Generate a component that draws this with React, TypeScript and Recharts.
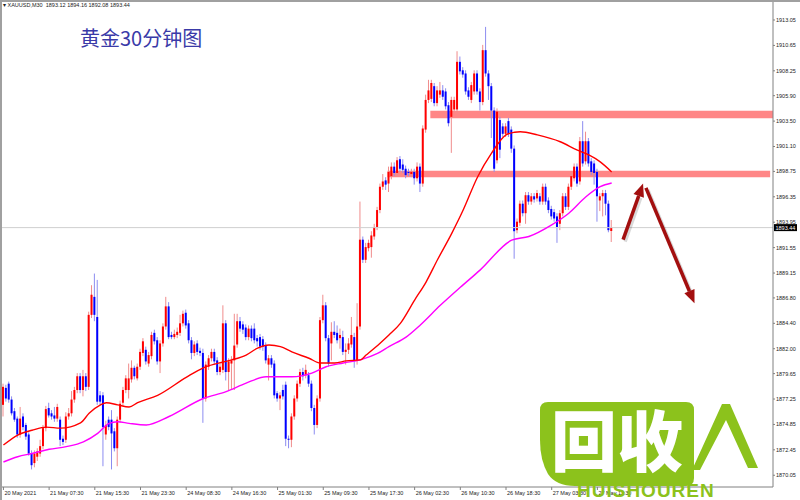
import React from 'react'
import { ComposedChart, Bar, Line, XAxis, YAxis, ReferenceArea, ReferenceLine } from 'recharts'

// XAUUSD M30 candles, [open, high, low, close], oldest first
const candles: [number, number, number, number][] = [
  [1876.7, 1878.7, 1875.6, 1878.4], [1878.3, 1878.6, 1877.0, 1877.3], [1878.7, 1878.9, 1876.9, 1877.2],
  [1877.2, 1877.5, 1875.7, 1875.9], [1876.1, 1876.4, 1875.1, 1875.3], [1875.4, 1875.6, 1873.6, 1873.9],
  [1873.9, 1876.5, 1873.6, 1875.4], [1875.6, 1875.9, 1874.3, 1874.6], [1874.8, 1875.0, 1873.4, 1873.7],
  [1873.9, 1874.1, 1871.9, 1872.1], [1872.1, 1872.4, 1870.6, 1871.0], [1871.2, 1872.4, 1870.8, 1872.1],
  [1871.8, 1872.6, 1871.4, 1872.3], [1872.1, 1873.4, 1871.8, 1872.8], [1872.8, 1874.8, 1872.5, 1874.5],
  [1874.5, 1876.6, 1874.2, 1876.3], [1876.4, 1876.9, 1875.5, 1875.7], [1875.9, 1876.2, 1875.3, 1875.6],
  [1875.7, 1876.5, 1875.1, 1875.4], [1875.4, 1876.8, 1875.1, 1876.5], [1875.3, 1875.6, 1872.8, 1873.4],
  [1873.5, 1873.8, 1872.9, 1873.2], [1873.4, 1876.0, 1873.1, 1875.6], [1875.6, 1876.4, 1875.3, 1875.9],
  [1875.9, 1878.0, 1875.6, 1877.2], [1877.2, 1878.4, 1876.9, 1878.1], [1878.1, 1879.7, 1877.8, 1879.4],
  [1879.4, 1879.7, 1877.8, 1878.1], [1878.1, 1880.0, 1877.5, 1879.4], [1879.4, 1879.7, 1878.0, 1878.4],
  [1878.4, 1885.5, 1878.1, 1885.2], [1885.2, 1888.0, 1884.9, 1887.1], [1886.9, 1889.1, 1884.6, 1885.2],
  [1885.0, 1888.5, 1876.7, 1877.0], [1877.6, 1878.0, 1876.7, 1877.0], [1877.6, 1877.9, 1870.9, 1874.6],
  [1873.9, 1875.2, 1873.4, 1874.8], [1875.3, 1875.6, 1874.3, 1874.6], [1875.3, 1876.2, 1870.6, 1874.0],
  [1874.2, 1874.5, 1872.3, 1872.6], [1872.6, 1875.6, 1870.9, 1875.3], [1875.3, 1877.1, 1875.0, 1876.8],
  [1876.9, 1878.4, 1876.6, 1878.1], [1878.1, 1879.5, 1877.8, 1879.2],
  // 24 May
  [1878.1, 1880.6, 1877.3, 1879.2], [1879.1, 1880.9, 1878.8, 1880.2], [1880.2, 1880.4, 1879.1, 1879.4],
  [1879.2, 1880.6, 1879.0, 1880.3], [1880.3, 1882.0, 1880.0, 1881.7], [1881.6, 1883.0, 1881.3, 1882.7],
  [1881.9, 1882.2, 1880.5, 1880.8], [1880.6, 1881.7, 1880.3, 1881.4], [1881.3, 1883.6, 1881.0, 1883.3],
  [1883.5, 1883.8, 1882.4, 1882.7], [1882.8, 1883.1, 1880.5, 1880.8], [1880.8, 1882.8, 1879.7, 1882.5],
  [1882.5, 1884.4, 1882.2, 1884.1], [1884.1, 1886.9, 1883.8, 1886.0], [1886.0, 1886.4, 1882.9, 1883.1],
  [1883.3, 1883.6, 1882.9, 1883.1], [1883.1, 1883.8, 1882.9, 1883.4], [1883.3, 1884.0, 1883.0, 1883.6],
  [1883.5, 1885.2, 1883.2, 1884.4], [1884.4, 1885.6, 1884.1, 1885.3], [1885.4, 1885.7, 1883.9, 1884.2],
  [1884.4, 1884.7, 1882.5, 1882.8], [1882.8, 1883.1, 1881.0, 1881.6], [1881.6, 1882.7, 1881.3, 1882.4],
  [1882.5, 1882.8, 1881.4, 1881.7], [1881.8, 1882.1, 1881.3, 1881.6], [1881.6, 1882.0, 1875.0, 1877.3],
  [1877.3, 1880.8, 1877.0, 1880.5], [1880.3, 1881.4, 1880.0, 1881.1], [1881.1, 1882.0, 1880.8, 1881.7],
  [1881.7, 1882.0, 1880.5, 1880.8], [1880.9, 1881.2, 1879.5, 1879.8], [1879.8, 1880.6, 1879.5, 1880.3],
  [1880.0, 1886.1, 1879.7, 1884.4], [1884.4, 1884.7, 1879.0, 1879.8], [1879.8, 1881.1, 1878.1, 1880.8],
  [1880.6, 1881.3, 1878.2, 1880.9], [1880.9, 1885.3, 1878.1, 1882.3], [1882.4, 1885.3, 1882.1, 1884.6],
  [1884.6, 1885.0, 1883.6, 1883.9], [1884.3, 1884.6, 1883.4, 1883.8], [1884.0, 1884.3, 1882.8, 1883.1],
  [1883.1, 1884.2, 1882.8, 1883.9], [1883.9, 1884.2, 1882.7, 1883.0], [1883.9, 1884.4, 1882.5, 1882.8],
  [1883.0, 1883.3, 1882.2, 1882.7], [1883.1, 1883.4, 1881.9, 1882.2], [1882.9, 1883.2, 1881.8, 1882.2],
  // 25 May
  [1882.3, 1882.6, 1880.6, 1880.9], [1880.5, 1881.4, 1879.0, 1881.1], [1881.1, 1881.4, 1880.2, 1880.5],
  [1880.6, 1880.9, 1877.3, 1877.6], [1877.8, 1878.0, 1877.0, 1877.3], [1877.3, 1877.9, 1876.2, 1877.6],
  [1878.1, 1878.6, 1877.2, 1877.5], [1878.6, 1878.9, 1872.8, 1873.5], [1873.5, 1873.8, 1872.6, 1873.4],
  [1873.4, 1875.9, 1872.7, 1875.6], [1875.6, 1877.6, 1875.3, 1877.3], [1877.3, 1879.0, 1877.0, 1878.7],
  [1878.7, 1880.1, 1878.4, 1879.8], [1879.8, 1880.2, 1879.0, 1879.4], [1879.5, 1880.5, 1879.2, 1880.0],
  [1879.5, 1879.8, 1878.4, 1878.7], [1878.7, 1879.0, 1876.1, 1876.4], [1876.4, 1876.7, 1873.9, 1874.8],
  [1874.8, 1877.6, 1874.5, 1877.3], [1877.3, 1885.0, 1877.0, 1884.7], [1884.7, 1887.1, 1884.4, 1886.1],
  [1886.1, 1886.4, 1882.7, 1883.0], [1883.0, 1883.3, 1880.3, 1880.6], [1882.5, 1884.5, 1880.9, 1883.6],
  [1883.6, 1884.6, 1883.0, 1883.3], [1883.5, 1884.2, 1882.5, 1882.8], [1883.0, 1883.9, 1882.0, 1883.3],
  [1883.1, 1883.7, 1881.4, 1881.7], [1881.7, 1882.5, 1880.5, 1881.9], [1881.9, 1883.0, 1881.5, 1882.5],
  [1882.4, 1885.0, 1882.1, 1883.3], [1883.1, 1883.5, 1880.2, 1880.9], [1880.9, 1886.3, 1880.5, 1884.1],
  [1884.1, 1895.9, 1883.8, 1892.3], [1892.3, 1892.6, 1890.1, 1890.4], [1890.4, 1892.0, 1890.1, 1891.6],
  [1891.5, 1892.3, 1891.2, 1892.0], [1891.6, 1893.1, 1890.6, 1892.7], [1892.6, 1893.8, 1892.3, 1893.5],
  [1893.5, 1895.4, 1893.2, 1895.1], [1895.1, 1897.6, 1894.8, 1897.3], [1897.3, 1898.5, 1897.0, 1897.8],
  // 26 May
  [1897.9, 1898.2, 1897.0, 1897.5], [1897.6, 1899.2, 1896.8, 1898.7], [1898.3, 1899.6, 1898.0, 1899.2],
  [1899.2, 1899.6, 1898.3, 1898.6], [1898.6, 1900.1, 1898.3, 1899.8], [1899.9, 1900.2, 1898.7, 1899.0],
  [1899.4, 1899.9, 1898.6, 1898.9], [1899.0, 1899.3, 1898.1, 1898.4], [1898.7, 1899.0, 1898.3, 1898.6],
  [1898.5, 1899.0, 1898.2, 1898.7], [1898.7, 1899.0, 1897.5, 1898.1], [1898.1, 1899.6, 1897.8, 1899.2],
  [1899.2, 1899.5, 1896.8, 1897.6], [1897.6, 1903.1, 1897.3, 1902.8], [1902.7, 1906.0, 1902.4, 1905.5],
  [1905.5, 1907.4, 1905.2, 1906.4], [1905.6, 1907.4, 1905.3, 1907.1], [1906.8, 1907.1, 1904.9, 1905.2],
  [1905.2, 1906.8, 1904.9, 1906.4], [1906.0, 1907.2, 1905.7, 1906.4], [1906.4, 1906.9, 1905.5, 1905.8],
  [1906.3, 1906.6, 1904.6, 1904.9], [1905.0, 1905.3, 1903.0, 1903.3], [1903.9, 1905.8, 1900.5, 1905.5],
  [1904.6, 1905.8, 1904.3, 1905.5], [1904.6, 1910.1, 1904.3, 1909.1], [1909.1, 1909.6, 1907.9, 1908.2],
  [1908.3, 1908.6, 1907.6, 1907.9], [1908.0, 1908.3, 1906.0, 1906.3], [1906.4, 1906.7, 1905.5, 1905.8],
  [1905.5, 1907.2, 1905.2, 1906.9], [1906.3, 1908.3, 1906.0, 1908.0], [1908.0, 1908.3, 1906.0, 1906.3],
  [1906.3, 1906.6, 1904.5, 1905.3], [1905.3, 1910.7, 1905.0, 1910.2], [1910.2, 1912.4, 1907.7, 1908.0],
  [1908.0, 1908.3, 1905.5, 1906.8], [1906.8, 1907.1, 1901.9, 1904.5], [1904.5, 1904.8, 1898.7, 1899.0],
  [1899.8, 1904.7, 1899.5, 1904.4], [1903.6, 1903.9, 1900.0, 1900.8], [1903.0, 1903.3, 1902.0, 1902.3],
  [1902.3, 1903.3, 1902.0, 1903.0], [1903.5, 1903.8, 1902.0, 1902.3], [1902.7, 1903.0, 1900.5, 1900.9],
  [1900.9, 1901.2, 1890.5, 1893.1], [1893.2, 1894.3, 1892.9, 1894.0], [1893.9, 1896.0, 1893.6, 1895.7],
  [1895.7, 1896.0, 1894.5, 1894.8], [1894.8, 1896.8, 1893.8, 1896.5], [1896.5, 1896.8, 1895.6, 1895.9],
  [1895.9, 1896.7, 1895.6, 1896.4], [1896.4, 1896.7, 1895.8, 1896.1], [1896.2, 1897.0, 1895.9, 1896.7],
  [1896.4, 1896.7, 1895.6, 1895.9], [1895.9, 1897.6, 1895.6, 1897.3], [1897.3, 1897.6, 1895.6, 1895.9],
  // 27 May
  [1896.0, 1896.3, 1894.8, 1895.1], [1895.2, 1895.5, 1894.2, 1894.5], [1894.9, 1895.2, 1894.0, 1894.3],
  [1894.5, 1894.8, 1892.0, 1893.5], [1893.8, 1895.1, 1893.2, 1894.8], [1894.8, 1896.7, 1894.5, 1896.4],
  [1896.4, 1896.7, 1895.1, 1895.4], [1895.4, 1897.6, 1895.1, 1897.3], [1897.3, 1898.6, 1897.0, 1898.3],
  [1898.1, 1899.5, 1897.8, 1899.2], [1899.2, 1899.5, 1897.3, 1897.6], [1897.8, 1902.0, 1897.5, 1901.6],
  [1901.6, 1903.5, 1899.2, 1899.5], [1899.7, 1902.5, 1899.4, 1901.6], [1901.6, 1901.9, 1899.2, 1899.5],
  [1899.7, 1900.0, 1898.4, 1898.7], [1899.5, 1899.8, 1897.5, 1898.6], [1898.7, 1899.0, 1894.0, 1896.4],
  [1896.0, 1896.7, 1895.0, 1896.4], [1896.4, 1897.0, 1894.5, 1896.7], [1896.7, 1897.0, 1894.6, 1895.7],
  [1895.7, 1896.0, 1893.0, 1893.2], [1893.12, 1894.16, 1892.08, 1893.44],
]

// moving averages, [bar index, value]
const maRed: [number, number][] = [
  [0, 1872.9], [5, 1873.85], [10, 1874.3], [15, 1874.6], [20, 1874.5], [27, 1875.0], [30, 1875.9],
  [34, 1876.7], [36, 1876.9], [40, 1876.7], [44, 1876.5], [47, 1876.9], [54, 1877.6], [64, 1879.3],
  [70, 1880.2], [77, 1880.75], [80, 1880.95], [85, 1881.4], [89, 1882.05], [93, 1882.35], [97, 1882.2],
  [101, 1881.7], [107, 1881.1], [111, 1880.65], [116, 1880.65], [120, 1880.85], [125, 1880.95],
  [127, 1881.4], [132, 1882.55], [135, 1883.3], [139, 1884.4], [144, 1886.6], [148, 1888.3],
  [152, 1890.4], [157, 1892.9], [161, 1895.1], [166, 1898.2], [171, 1900.5], [176, 1902.2],
  [179, 1902.45], [181, 1902.5], [187, 1902.2], [195, 1901.55], [201, 1900.75], [205, 1900.3],
  [209, 1899.65], [213, 1898.7],
]
const maPink: [number, number][] = [
  [0, 1871.3], [5, 1871.8], [10, 1872.1], [16, 1872.5], [22, 1872.75], [28, 1873.2], [33, 1874.0],
  [37, 1874.95], [40, 1875.1], [44, 1874.95], [50, 1874.8], [58, 1875.6], [70, 1877.3], [78, 1877.95],
  [85, 1878.75], [92, 1879.35], [101, 1879.35], [108, 1879.7], [113, 1880.3], [119, 1880.65],
  [125, 1880.95], [131, 1881.55], [135, 1882.2], [141, 1883.1], [146, 1884.25], [153, 1886.1],
  [160, 1887.8], [167, 1889.45], [178, 1892.25], [184, 1892.6], [192, 1893.7], [198, 1894.8],
  [204, 1896.35], [209, 1897.3], [213, 1897.65],
]

const dateTicks = [0, 16, 32, 48, 64, 80, 96, 112, 128, 144, 160, 176, 192, 208]
const dateLabels = [
  '20 May 2021', '21 May 07:30', '21 May 15:30', '21 May 23:30', '24 May 08:30', '24 May 16:30',
  '25 May 01:30', '25 May 09:30', '25 May 17:30', '26 May 02:30', '26 May 10:30', '26 May 18:30',
  '27 May 03:30', '27 May 11:30',
]
const priceTicks = [
  1913.05, 1910.65, 1908.25, 1905.9, 1903.5, 1901.1, 1898.75, 1896.35, 1893.95, 1891.55,
  1889.15, 1886.8, 1884.4, 1882.0, 1879.65, 1877.25, 1874.85, 1872.45, 1870.05,
]
const lastPrice = 1893.44
const headerQuote = ['1893.12', '1894.16', '1892.08', '1893.44']

// resistance zones: [from bar, to bar, low, high]
const zones: [number, number, number, number][] = [
  [150, 269, 1903.77, 1904.48],
  [135, 268, 1898.19, 1898.82],
]
// hand drawn arrows: [[bar, price], [bar, price]]
const arrows: [[number, number], [number, number]][] = [
  [[217, 1892.3], [224, 1897.6]],
  [[225, 1897.2], [242, 1886.3]],
]

const SLOTS = 270
const UP = '#ff0000'
const DOWN = '#0000ff'
const ARROW = '#a30f0f'
const LOGO = '#8cc21c'

const rows = Array.from({ length: SLOTS }, (_, i) => {
  const k = candles[i]
  return {
    i,
    o: k ? k[0] : null,
    h: k ? k[1] : null,
    l: k ? k[2] : null,
    c: k ? k[3] : null,
    range: k ? [k[2], k[1]] : null,
    maR: null as number | null,
    maP: null as number | null,
  }
})
maRed.forEach(([i, v]) => { rows[i].maR = v })
maPink.forEach(([i, v]) => { rows[i].maP = v })

function Candle(props: any) {
  const { x, y, width, height, payload } = props
  if (!payload || payload.o == null || !Number.isFinite(y)) return <g />
  const { o, h, l, c } = payload
  const span = h - l || 1
  const toY = (p: number) => y + ((h - p) / span) * height
  const up = c >= o
  const cx = x + width / 2
  const top = toY(Math.max(o, c))
  const bot = toY(Math.min(o, c))
  return (
    <g>
      <line x1={cx} x2={cx} y1={y} y2={y + height} stroke={up ? '#f08c8c' : '#8c8cf0'} strokeWidth={1} />
      <rect x={x} y={top} width={width} height={Math.max(1, bot - top)} fill={up ? UP : DOWN} />
    </g>
  )
}

function DateTick(props: any) {
  const { x, y, payload } = props
  const idx = dateTicks.indexOf(payload.value)
  return (
    <text x={x + 1} y={y + 3} fontSize={5.5} fill="#222" fontFamily="Liberation Sans">
      {idx >= 0 ? dateLabels[idx] : ''}
    </text>
  )
}

function PriceTag(props: any) {
  const vb = props.viewBox
  if (!vb) return null
  const x = vb.x + (vb.width || 0) + 1
  return (
    <g>
      <rect x={x} y={vb.y - 3.5} width={23} height={7} fill="#000" />
      <text x={x + 1.5} y={vb.y + 2} fontSize={5.5} fill="#fff" fontFamily="Liberation Sans">
        {lastPrice.toFixed(2)}
      </text>
    </g>
  )
}

function Arrow(props: any) {
  const { x1, y1, x2, y2 } = props
  const dx = x2 - x1
  const dy = y2 - y1
  const len = Math.hypot(dx, dy) || 1
  const ux = dx / len
  const uy = dy / len
  const bx = x2 - ux * 13
  const by = y2 - uy * 13
  const hw = 5.5
  const head = `${x2},${y2} ${bx - uy * hw},${by + ux * hw} ${bx + uy * hw},${by - ux * hw}`
  return (
    <g>
      <line x1={x1 + 2} y1={y1 + 2} x2={bx + 2} y2={by + 2} stroke="#000" strokeOpacity={0.15} strokeWidth={3.5} />
      <line x1={x1} y1={y1} x2={bx} y2={by} stroke={ARROW} strokeWidth={3.5} />
      <polygon points={head} fill={ARROW} />
    </g>
  )
}

export default function App() {
  return (
    <div style={{ position: 'absolute', left: 0, top: 0, width: 800, height: 500, background: '#fff', overflow: 'hidden' }}>
      <ComposedChart width={800} height={500} data={rows} margin={{ top: 2, right: 0, bottom: 0, left: 2 }}>
        <XAxis
          dataKey="i"
          type="category"
          ticks={dateTicks}
          interval={0}
          tick={<DateTick />}
          tickSize={3}
          height={13}
          axisLine={{ stroke: '#808080' }}
          tickLine={{ stroke: '#808080' }}
        />
        <YAxis
          orientation="right"
          type="number"
          domain={[1868.94, 1914.75]}
          allowDataOverflow
          ticks={priceTicks}
          interval={0}
          width={27}
          tickSize={2}
          tickMargin={1}
          tickFormatter={(v: number) => v.toFixed(2)}
          tick={{ fontSize: 5.5, fill: '#222', fontFamily: 'Liberation Sans' }}
          axisLine={{ stroke: '#808080' }}
          tickLine={{ stroke: '#808080' }}
        />
        {zones.map(([x1, x2, lo, hi]) => (
          <ReferenceArea
            key={hi}
            x1={x1}
            x2={x2}
            y1={lo}
            y2={hi}
            ifOverflow="visible"
            fill="#ff7f7f"
            fillOpacity={0.95}
            stroke="none"
          />
        ))}
        <ReferenceLine y={lastPrice} stroke="#cfcfcf" strokeWidth={1} label={<PriceTag />} />
        <Bar dataKey="range" barSize={2} shape={<Candle />} isAnimationActive={false} />
        <Line dataKey="maP" type="monotone" stroke="#ff00ff" strokeWidth={1.4} dot={false} activeDot={false} connectNulls isAnimationActive={false} />
        <Line dataKey="maR" type="monotone" stroke="#ff0000" strokeWidth={1.4} dot={false} activeDot={false} connectNulls isAnimationActive={false} />
        {arrows.map(([a, b]) => (
          <ReferenceLine key={a[0]} segment={[{ x: a[0], y: a[1] }, { x: b[0], y: b[1] }]} shape={<Arrow />} />
        ))}
      </ComposedChart>

      <div style={{ position: 'absolute', left: 0, top: 0, width: 800, height: 2, background: '#a0a0a0' }} />
      <div style={{ position: 'absolute', left: 0, top: 0, width: 2, height: 500, background: '#a0a0a0' }} />

      <div style={{ position: 'absolute', left: 3, top: 2, fontSize: 5.5, lineHeight: '7px', fontFamily: 'Liberation Sans', color: '#222', whiteSpace: 'pre' }}>
        {'▾ XAUUSD,M30  ' + headerQuote.join(' ')}
      </div>
      <div style={{ position: 'absolute', left: 80, top: 26, fontSize: 20, lineHeight: '24px', fontFamily: '"Noto Sans CJK SC"', color: '#3a3aa8' }}>
        黄金30分钟图
      </div>

      <svg width={800} height={500} style={{ position: 'absolute', left: 0, top: 0, pointerEvents: 'none' }}>
        <path d="M548 402 L686 402 Q694 402 694 410 L694 478 Q694 486 686 486 L575 486 Q556 486 548 474 Q540 460 540 440 L540 410 Q540 402 548 402 Z" fill={LOGO} />
        <text x={617} y={466} textAnchor="middle" fontSize={66} fontWeight={900} fill="#fff" fontFamily="Noto Sans CJK SC">回收</text>
        <path d="M722 404 L730 404 L758 468 L748 468 L726 420 L700 470 L692 470 Z" fill={LOGO} />
        <text x={577} y={497} fontSize={19} fontWeight={900} fill={LOGO} fontFamily="Liberation Sans" letterSpacing={1}>HUISHOUREN</text>
      </svg>
    </div>
  )
}
